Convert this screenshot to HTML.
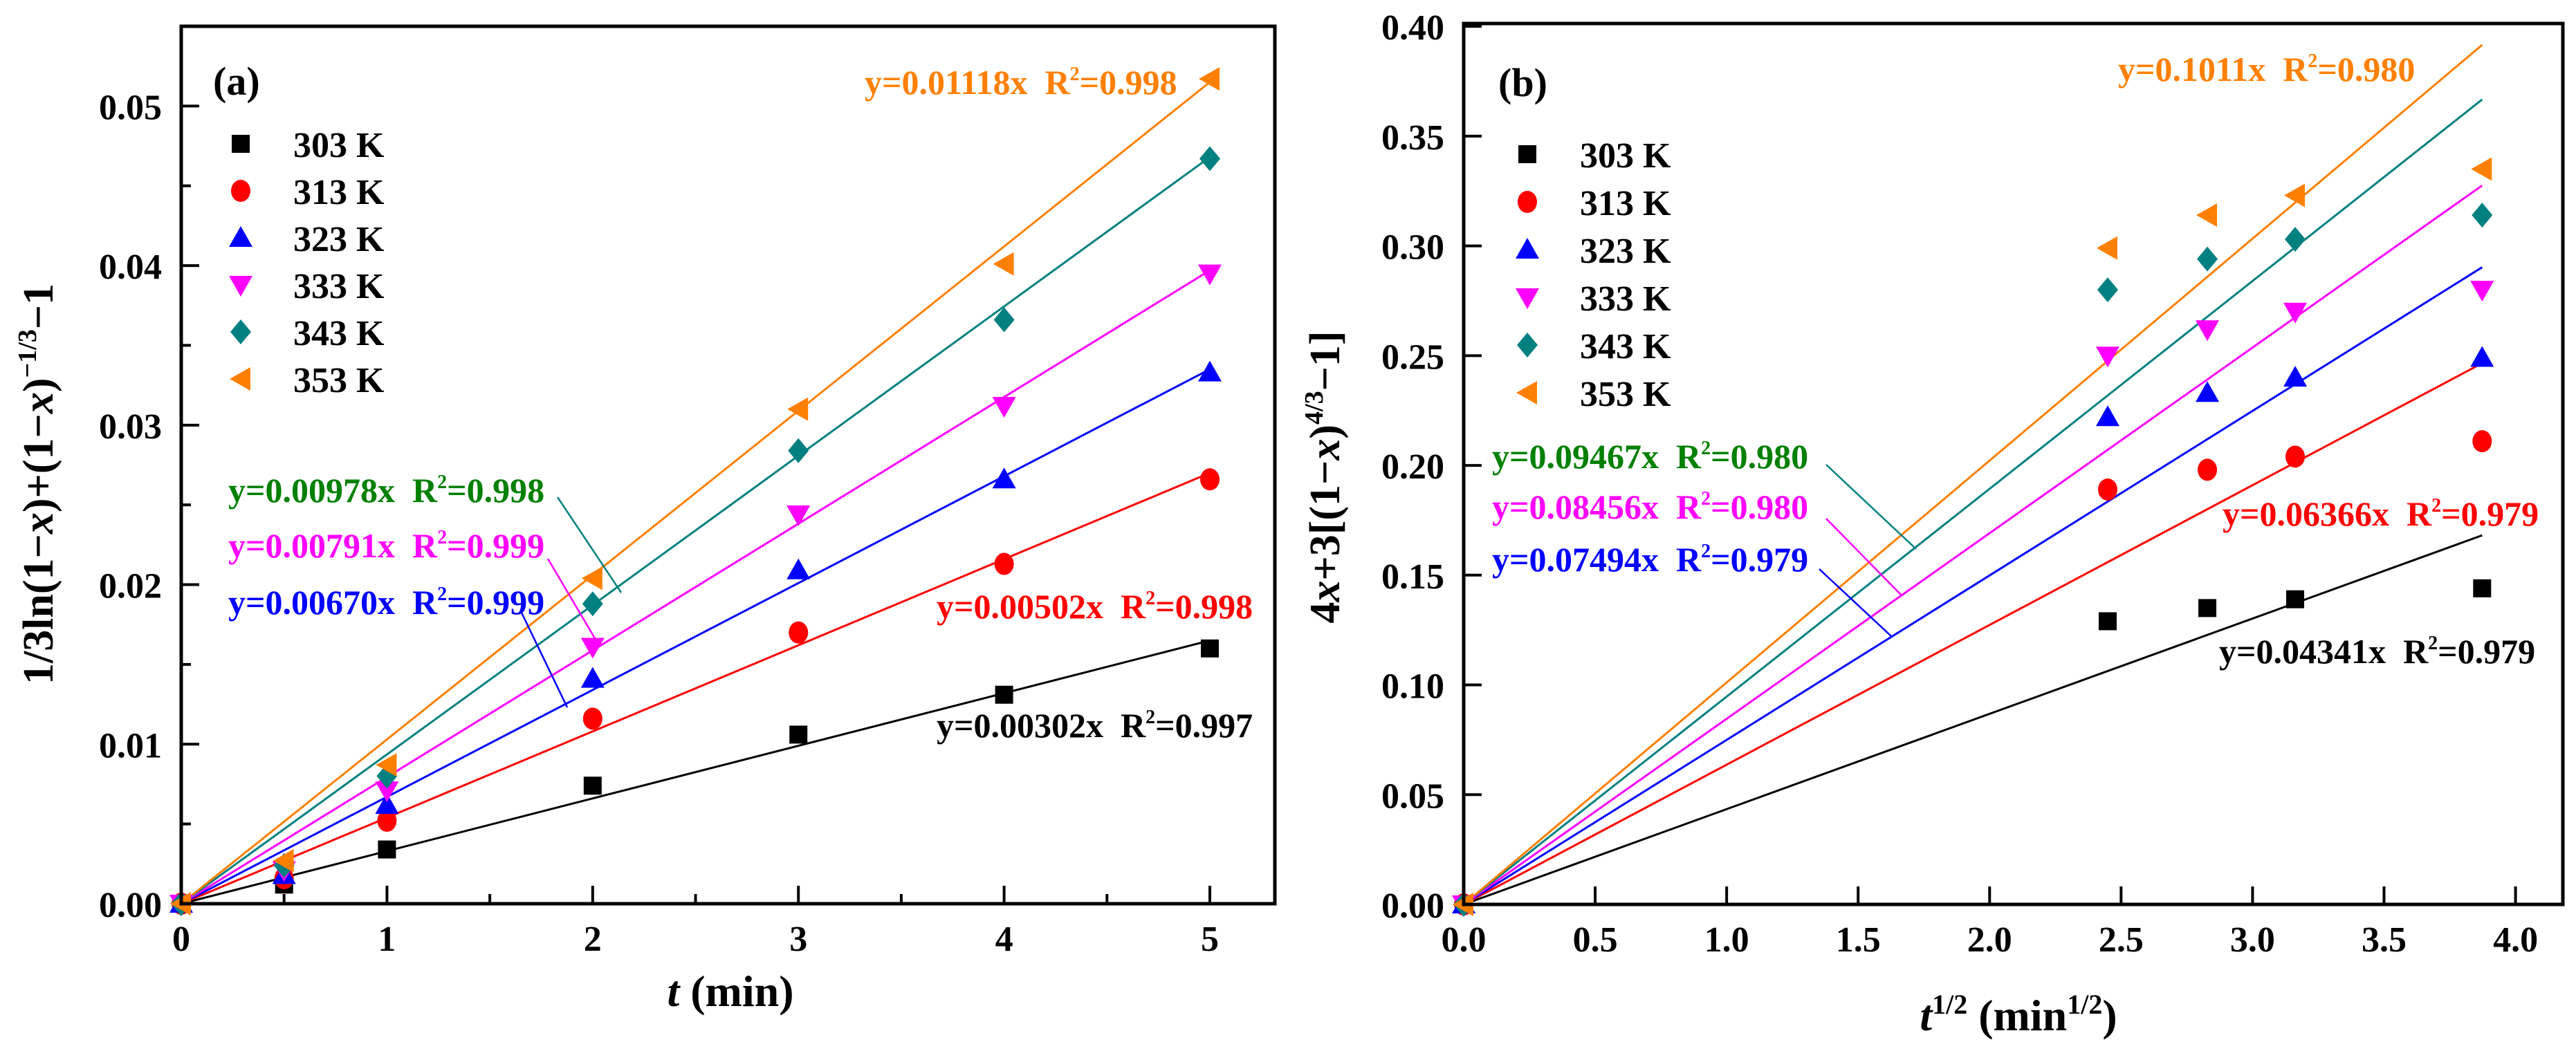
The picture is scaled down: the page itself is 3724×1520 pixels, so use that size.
<!DOCTYPE html>
<html><head><meta charset="utf-8">
<style>
html,body{margin:0;padding:0;background:#fff;}
svg{display:block;}
svg text{font-family:"Liberation Serif","Times New Roman",serif !important;font-weight:bold;}
</style></head>
<body>
<div style="position:relative;width:3724px;height:1520px">
<svg id="chart" width="3724" height="1520" viewBox="0 0 3724 1520" xmlns="http://www.w3.org/2000/svg" font-family="Liberation Serif, serif" font-weight="bold" style="position:absolute;left:0;top:0">
<g id="pa"></g>
<g id="pb"></g>
<text font-family="Liberation Serif, serif" transform="translate(76,700) rotate(-90)" text-anchor="middle" font-size="62">1/3ln(1−<tspan font-style="italic">x</tspan>)+(1−<tspan font-style="italic">x</tspan>)<tspan dy="-24" font-size="38">−1/3</tspan><tspan dy="24">−1</tspan></text>
<text font-family="Liberation Serif, serif" x="1056" y="1455" text-anchor="middle" font-size="64"><tspan font-style="italic">t</tspan> (min)</text>
<text font-family="Liberation Serif, serif" transform="translate(1936,690) rotate(-90)" text-anchor="middle" font-size="62">4<tspan font-style="italic">x</tspan>+3[(1−<tspan font-style="italic">x</tspan>)<tspan dy="-24" font-size="38">4/3</tspan><tspan dy="24">−1]</tspan></text>
<text font-family="Liberation Serif, serif" x="2918" y="1490" text-anchor="middle" font-size="64"><tspan font-style="italic">t</tspan><tspan dy="-24" font-size="40">1/2</tspan><tspan dy="24"> (min</tspan><tspan dy="-24" font-size="40">1/2</tspan><tspan dy="24">)</tspan></text>
</svg>
</div>
<script>
// ---------- data ----------
const seriesNames = ["303 K","313 K","323 K","333 K","343 K","353 K"];
const seriesColors = ["#000000","#ff0000","#0000ff","#ff00ff","#008080","#ff8000"];
const markerShapes = ["square","circle","up","down","diamond","left"];

const aX = [0,0.5,1,2,3,4,5];
const a303 = [0,0.0012,0.0034,0.0074,0.0106,0.0131,0.0160];
const a313 = [0,0.0016,0.0052,0.0116,0.0170,0.0213,0.0266];
const a323 = [0,0.0018,0.0062,0.0141,0.0209,0.0266,0.0333];
const a333 = [0,0.0021,0.0071,0.0161,0.0244,0.0312,0.0395];
const a343 = [0,0.0024,0.0080,0.0188,0.0284,0.0366,0.0467];
const a353 = [0,0.0027,0.0087,0.0204,0.0310,0.0401,0.0517];
const aFitSlopes = [0.00330,0.00540,0.00670,0.00794,0.00936,0.01030];
const aXTicks = [0,1,2,3,4,5];
const aYTicks = [0,0.01,0.02,0.03,0.04,0.05];
const aYTickLabels = ["0.00","0.01","0.02","0.03","0.04","0.05"];

const bX = [0,2.449,2.828,3.162,3.873];
const b303 = [0,0.129,0.135,0.139,0.144];
const b313 = [0,0.189,0.198,0.204,0.211];
const b323 = [0,0.222,0.233,0.240,0.249];
const b333 = [0,0.250,0.262,0.270,0.280];
const b343 = [0,0.280,0.294,0.303,0.314];
const b353 = [0,0.299,0.314,0.323,0.335];
const bFitSlopes = [0.04341,0.06366,0.07494,0.08456,0.09467,0.1011];
const bXTicks = [0,0.5,1,1.5,2,2.5,3,3.5,4];
const bXTickLabels = ["0.0","0.5","1.0","1.5","2.0","2.5","3.0","3.5","4.0"];
const bYTicks = [0,0.05,0.1,0.15,0.2,0.25,0.3,0.35,0.4];
const bYTickLabels = ["0.00","0.05","0.10","0.15","0.20","0.25","0.30","0.35","0.40"];

const NS="http://www.w3.org/2000/svg";
const FF="Liberation Serif, Times New Roman, serif";
function mk(parent,tag,attrs){const e=document.createElementNS(NS,tag);for(const k in attrs)e.setAttribute(k,attrs[k]);if(tag==="text"){e.setAttribute("font-family",FF);e.setAttribute("font-weight","bold");}parent.appendChild(e);return e;}

function marker(g,shape,cx,cy,color){
  let e;
  if(shape==="square"){e=mk(g,"rect",{x:cx-13,y:cy-13,width:26,height:26,fill:color});}
  else if(shape==="circle"){e=mk(g,"ellipse",{cx:cx,cy:cy,rx:14,ry:16,fill:color});}
  else if(shape==="up"){e=mk(g,"polygon",{points:`${cx},${cy-17} ${cx+17},${cy+13} ${cx-17},${cy+13}`,fill:color});}
  else if(shape==="down"){e=mk(g,"polygon",{points:`${cx-17},${cy-13} ${cx+17},${cy-13} ${cx},${cy+17}`,fill:color});}
  else if(shape==="diamond"){e=mk(g,"polygon",{points:`${cx},${cy-18} ${cx+15},${cy} ${cx},${cy+18} ${cx-15},${cy}`,fill:color});}
  else {e=mk(g,"polygon",{points:`${cx-16},${cy} ${cx+14},${cy-17} ${cx+14},${cy+17}`,fill:color});}
  return e;
}

function panel(g,cfg){
  const sx=v=>cfg.x0+(v-cfg.xmin)/(cfg.xmax-cfg.xmin)*(cfg.x1-cfg.x0);
  const sy=v=>cfg.y0-(v-cfg.ymin)/(cfg.ymax-cfg.ymin)*(cfg.y0-cfg.y1);
  cfg.slopes.forEach((s,i)=>{
    const l=mk(g,"line",{x1:sx(0),y1:sy(0),x2:sx(cfg.fitEnd),y2:sy(s*cfg.fitEnd),stroke:seriesColors[i],"stroke-width":3});
    
    
  });
  cfg.series.forEach((arr,i)=>{
    const sg=mk(g,"g",{});
    
    
    arr.forEach((v,j)=>{
      const m=marker(sg,markerShapes[i],sx(cfg.xs[j]),sy(v),seriesColors[i]);
      
      
    });
  });
  const fr=mk(g,"rect",{x:cfg.x0,y:cfg.y1,width:cfg.x1-cfg.x0,height:cfg.y0-cfg.y1,fill:"none",stroke:"#000","stroke-width":5});
  
  
  cfg.xTicks.forEach((t,i)=>{
    mk(g,"line",{x1:sx(t),y1:cfg.y0,x2:sx(t),y2:cfg.y0-26,stroke:"#000","stroke-width":4});
    const tx=mk(g,"text",{x:sx(t),y:cfg.y0+68,"text-anchor":"middle","font-size":52});
    tx.textContent=cfg.xTickLabels[i];
    
    
  });
  cfg.xMinor.forEach(t=>{mk(g,"line",{x1:sx(t),y1:cfg.y0,x2:sx(t),y2:cfg.y0-14,stroke:"#000","stroke-width":4});});
  cfg.yTicks.forEach((t,i)=>{
    mk(g,"line",{x1:cfg.x0,y1:sy(t),x2:cfg.x0+26,y2:sy(t),stroke:"#000","stroke-width":4});
    const tx=mk(g,"text",{x:cfg.x0-28,y:sy(t)+19,"text-anchor":"end","font-size":52});
    tx.textContent=cfg.yTickLabels[i];
    
    
  });
  cfg.yMinor.forEach(t=>{mk(g,"line",{x1:cfg.x0,y1:sy(t),x2:cfg.x0+14,y2:sy(t),stroke:"#000","stroke-width":4});});
  seriesNames.forEach((n,i)=>{
    const ly=cfg.legY+i*cfg.legDy;
    const lg=mk(g,"g",{});
    
    
    marker(lg,markerShapes[i],cfg.legX,ly,seriesColors[i]);
    const t=mk(lg,"text",{x:cfg.legX+76,y:ly+19,"font-size":52});
    t.textContent=n;
  });
  const pl=mk(g,"text",{x:cfg.labX,y:cfg.labY,"font-size":58});
  pl.textContent=cfg.label;
  
  
  cfg.ann.forEach(a=>{
    const t=mk(g,"text",{x:a[0],y:a[1],"font-size":50,fill:a[2]});
    t.innerHTML=a[3]+'\u00a0\u00a0R<tspan dy="-20" font-size="28">2</tspan><tspan dy="20">='+a[4]+'</tspan>';
    
    
    if(a[5]){const l=mk(g,"polyline",{points:a[5],fill:"none",stroke:a[6],"stroke-width":2.5});
      
      }
  });
}

panel(document.getElementById('pa'),{
  x0:262,x1:1843,xmin:0,xmax:5.316,y0:1307,y1:38,ymin:0,ymax:0.055,
  xs:aX,series:[a303,a313,a323,a333,a343,a353],slopes:aFitSlopes,fitEnd:5,
  xTicks:aXTicks,xTickLabels:aXTicks.map(String),xMinor:[0.5,1.5,2.5,3.5,4.5],
  yTicks:aYTicks,yTickLabels:aYTickLabels,yMinor:[0.005,0.015,0.025,0.035,0.045],
  legX:348,legY:208,legDy:68,labX:308,labY:137,label:"(a)",
  ann:[
    [1250,136,"#ff8000","y=0.01118x","0.998"],
    [330,726,"#008000","y=0.00978x","0.998","806,719 898,857","#008080"],
    [330,806,"#ff00ff","y=0.00791x","0.999","792,808 864,930","#ff00ff"],
    [330,888,"#0000ff","y=0.00670x","0.999","754,886 820,1023","#0000ff"],
    [1354,894,"#ff0000","y=0.00502x","0.998"],
    [1354,1066,"#000000","y=0.00302x","0.997"]
  ]
});
panel(document.getElementById('pb'),{
  x0:2116,x1:3705,xmin:0,xmax:4.18,y0:1308,y1:34,ymin:0,ymax:0.4013,
  xs:bX,series:[b303,b313,b323,b333,b343,b353],slopes:bFitSlopes,fitEnd:3.873,
  xTicks:bXTicks,xTickLabels:bXTickLabels,xMinor:[],
  yTicks:bYTicks,yTickLabels:bYTickLabels,yMinor:[],
  legX:2208,legY:223,legDy:69,labX:2166,labY:139,label:"(b)",
  ann:[
    [3062,117,"#ff8000","y=0.1011x","0.980"],
    [2157,677,"#008000","y=0.09467x","0.980","2640,672 2770,794","#008080"],
    [2157,750,"#ff00ff","y=0.08456x","0.980","2640,750 2750,862","#ff00ff"],
    [2157,826,"#0000ff","y=0.07494x","0.979","2630,823 2734,920","#0000ff"],
    [3213,760,"#ff0000","y=0.06366x","0.979"],
    [3208,959,"#000000","y=0.04341x","0.979"]
  ]
});
</script>
</body></html>
